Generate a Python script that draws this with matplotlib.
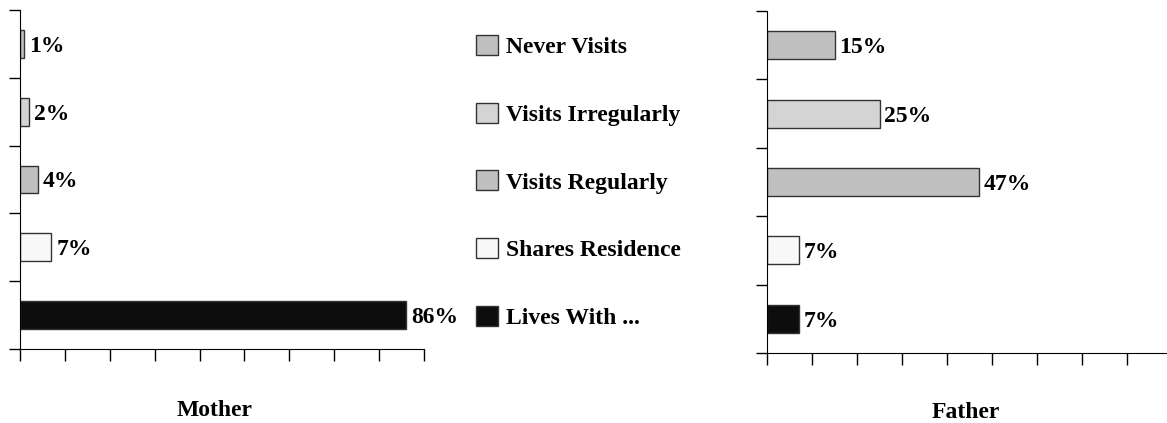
import matplotlib.pyplot as plt
from matplotlib.patches import Patch

categories = ['Never Visits', 'Visits Irregularly', 'Visits Regularly',
              'Shares Residence', 'Lives With ...']
mother = [1, 2, 4, 7, 86]
father = [15, 25, 47, 7, 7]
colors = ['#c0c0c0', '#d4d4d4', '#c0c0c0', '#f8f8f8', '#0d0d0d']

plt.rcParams['font.family'] = 'Liberation Serif'
plt.rcParams['font.weight'] = 'bold'

fig = plt.figure(figsize=(11.67, 4.23), dpi=100)
ax1 = fig.add_axes([20/1167, 74/423, 404/1167, 339/423])
ax2 = fig.add_axes([767/1167, 70/423, 405/1167, 342/423])

for ax, vals in [(ax1, mother), (ax2, father)]:
    pos = range(len(vals))
    ax.barh(pos, vals, height=0.41, color=colors,
            edgecolor='#333333', linewidth=1)
    for p, v in zip(pos, vals):
        ax.annotate(f'{v}%', (v, p), xytext=(3.5, 0), textcoords='offset points',
                    va='center_baseline', ha='left', fontsize=17, fontweight='bold')
    ax.set_xlim(0, 90)
    ax.set_ylim(len(vals) - 0.5, -0.5)
    ax.set_xticks(range(0, 91, 10))
    ax.set_yticks([i - 0.5 for i in range(len(vals) + 1)])
    ax.set_xticklabels([])
    ax.set_yticklabels([])
    ax.tick_params(axis='x', direction='out', length=8.5, width=1)
    ax.tick_params(axis='y', direction='out', length=8, width=1)
    ax.spines['top'].set_visible(False)
    ax.spines['right'].set_visible(False)
    ax.patch.set_alpha(0)

fig.text(215/1167, 13/423, 'Mother', ha='center', va='center',
         fontsize=17, fontweight='bold')
fig.text(966/1167, 11/423, 'Father', ha='center', va='center',
         fontsize=17, fontweight='bold')

handles = [Patch(facecolor=c, edgecolor='#333333', linewidth=1) for c in colors]
fig.legend(handles, categories, loc='center left',
           bbox_to_anchor=(476/1167, (423-182)/423), frameon=False,
           borderpad=0, borderaxespad=0, handlelength=0.93, handleheight=0.93,
           handletextpad=0.34, labelspacing=1.89,
           prop={'family': 'Liberation Serif', 'weight': 'bold', 'size': 17})

fig.savefig('out.png', dpi=100)
